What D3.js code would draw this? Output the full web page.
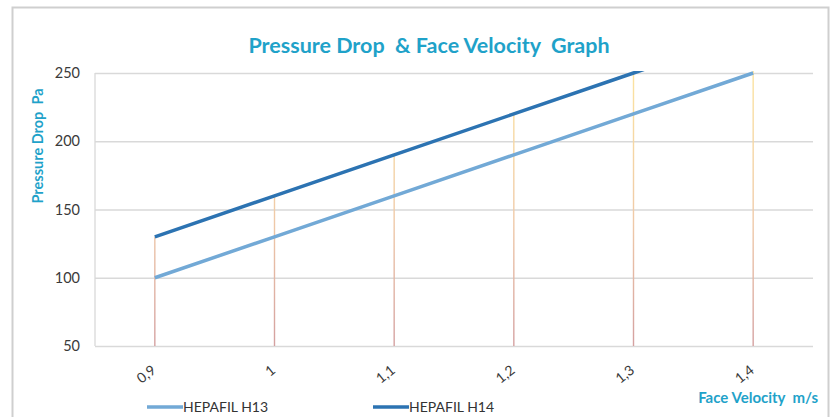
<!DOCTYPE html>
<html>
<head>
<meta charset="utf-8">
<script src="https://cdn.jsdelivr.net/npm/d3@7"></script>
<style>
  body { margin: 0; background: #fff; }
  svg text { font-family: Lato, "Open Sans", sans-serif; }
</style>
</head>
<body>
<div id="chart"></div>
<script>
// values
var velocities = ["0,9", "1", "1,1", "1,2", "1,3", "1,4"];
var h13 = [100, 130, 160, 190, 220, 250];
var h14 = [130, 160, 190, 220, 250, 280];
var yTicks = [50, 100, 150, 200, 250];
var seriesNames = ["HEPAFIL H13", "HEPAFIL H14"];
var seriesColors = ["#72a9d6", "#2c73b2"];

var width = 832, height = 417,
    margin = {top: 73, right: 19, bottom: 71, left: 95};

var svg = d3.select("#chart").append("svg")
  .attr("width", width).attr("height", height);

// outer chart frame
svg.append("rect")
  .attr("x", 12.5).attr("y", 7.5)
  .attr("width", 816).attr("height", 420)
  .style("fill", "#fff").style("stroke", "#cfcfcf").style("stroke-width", 2);

var x = d3.scaleBand().domain(velocities)
  .range([margin.left, width - margin.right]).padding(0);
var y = d3.scaleLinear().domain([50, 250])
  .range([height - margin.bottom, margin.top]);

var defs = svg.append("defs");
defs.append("clipPath").attr("id", "plotclip").append("rect")
  .attr("x", margin.left).attr("y", margin.top - 2)
  .attr("width", width - margin.left - margin.right)
  .attr("height", height - margin.top - margin.bottom + 2);

var grad = defs.append("linearGradient").attr("id", "dropgrad")
  .attr("gradientUnits", "userSpaceOnUse")
  .attr("x1", 0).attr("x2", 0)
  .attr("y1", y(250)).attr("y2", y(50));
grad.append("stop").attr("offset", "0%").attr("stop-color", "#fbe3a0");
grad.append("stop").attr("offset", "55%").attr("stop-color", "#efc9a8");
grad.append("stop").attr("offset", "100%").attr("stop-color", "#d4a0a0");

// horizontal gridlines
svg.append("g")
  .attr("transform", "translate(" + margin.left + ",0)")
  .call(d3.axisLeft(y).tickValues(yTicks).tickSize(-(width - margin.left - margin.right)).tickFormat(""))
  .call(function(g){
    g.select(".domain").remove();
    g.selectAll("line").style("stroke", "#d9d9d9").style("stroke-width", 1.3);
  });

// left axis line
svg.append("line")
  .attr("x1", margin.left).attr("x2", margin.left)
  .attr("y1", y(250)).attr("y2", y(50))
  .style("stroke", "#d9d9d9").style("stroke-width", 1.3);

// y tick labels
svg.append("g")
  .attr("transform", "translate(" + margin.left + ",0)")
  .call(d3.axisLeft(y).tickValues(yTicks).tickSize(0).tickPadding(15))
  .call(function(g){
    g.select(".domain").remove();
    g.selectAll("text").style("font-size", "14.5px").style("fill", "#3a3a3a");
  });

var cx = function(v){ return x(v) + x.bandwidth() / 2; };

// drop lines from the highest series to the axis
var plot = svg.append("g").attr("clip-path", "url(#plotclip)");
plot.selectAll(".drop")
  .data(velocities)
  .enter().append("line")
  .attr("class", "drop")
  .attr("x1", cx).attr("x2", cx)
  .attr("y1", function(d, i){ return y(Math.max(h13[i], h14[i])); })
  .attr("y2", y(50))
  .style("stroke", "url(#dropgrad)").style("stroke-width", 1.4);

var line = d3.line()
  .x(function(d, i){ return cx(velocities[i]); })
  .y(function(d){ return y(d); });

[h13, h14].forEach(function(s, k){
  plot.append("path").datum(s)
    .attr("d", line)
    .style("fill", "none")
    .style("stroke", seriesColors[k])
    .style("stroke-width", 3.5);
});

// x tick labels, rotated
svg.append("g")
  .attr("transform", "translate(0," + y(50) + ")")
  .call(d3.axisBottom(x).tickSize(0).tickPadding(0))
  .call(function(g){
    g.select(".domain").remove();
    g.selectAll("text")
      .attr("transform", "translate(2,26) rotate(-38)")
      .attr("y", 0).attr("dy", 0)
      .style("text-anchor", "end")
      .style("font-size", "14px").style("fill", "#3a3a3a");
  });

// title
svg.append("text")
  .attr("x", 429).attr("y", 53)
  .style("text-anchor", "middle")
  .style("font-size", "21.5px").style("font-weight", "bold")
  .style("fill", "#1fa2c9")
  .attr("xml:space", "preserve")
  .text("Pressure Drop  & Face Velocity  Graph");

// y axis title
svg.append("text")
  .attr("transform", "translate(43,146) rotate(-90)")
  .style("text-anchor", "middle")
  .style("font-size", "14.5px").style("font-weight", "bold")
  .style("fill", "#1fa2c9")
  .attr("xml:space", "preserve")
  .text("Pressure Drop  Pa");

// x axis title
svg.append("text")
  .attr("x", 818).attr("y", 403)
  .style("text-anchor", "end")
  .style("font-size", "15px").style("font-weight", "bold")
  .style("fill", "#1fa2c9")
  .attr("xml:space", "preserve")
  .text("Face Velocity  m/s");

// legend
var legendX = [147, 373];
var legend = svg.selectAll(".legend")
  .data(seriesNames)
  .enter().append("g")
  .attr("class", "legend")
  .attr("transform", function(d, i){ return "translate(" + legendX[i] + ",407)"; });
legend.append("line")
  .attr("x1", 0).attr("x2", 36)
  .style("stroke", function(d, i){ return seriesColors[i]; })
  .style("stroke-width", 3.5);
legend.append("text")
  .attr("x", 36).attr("dy", "0.35em")
  .style("font-size", "14px").style("fill", "#333")
  .text(function(d){ return d; });
</script>
</body>
</html>
